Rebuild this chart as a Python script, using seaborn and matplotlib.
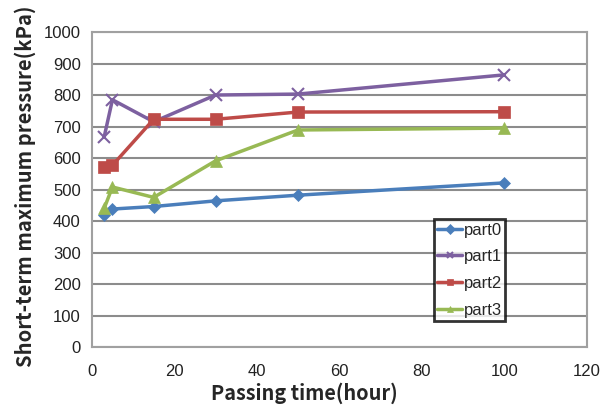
import matplotlib
matplotlib.use("Agg")
import matplotlib.pyplot as plt
import seaborn as sns
import pandas as pd

hours = [3, 5, 15, 30, 50, 100]
part0 = [419, 438, 446, 464, 482, 521]
part1 = [667, 785, 715, 800, 803, 864]
part2 = [573, 577, 723, 723, 746, 747]
part3 = [440, 508, 475, 591, 689, 695]
series = ["part0", "part1", "part2", "part3"]

df = pd.DataFrame({
    "hour": hours * 4,
    "pressure": part0 + part1 + part2 + part3,
    "series": sum([[s] * len(hours) for s in series], []),
})

sns.set_theme(style="white")
plt.rcParams['font.family'] = ['Liberation Sans', 'DejaVu Sans']

colors = {"part0": "#4a7ebb", "part1": "#7d60a0", "part2": "#be4b48", "part3": "#98b954"}
markers = {"part0": "D", "part1": "x", "part2": "s", "part3": "^"}
msizes = {"part0": 6, "part1": 8, "part2": 8, "part3": 8}

fig = plt.figure(figsize=(6.08, 4.08), dpi=100)
ax = fig.add_axes([0.151, 0.1495, 0.814, 0.772])

for s in series:
    sub = df[df.series == s]
    sns.lineplot(data=sub, x="hour", y="pressure", ax=ax, color=colors[s],
                 marker=markers[s], markersize=msizes[s], linewidth=2.5,
                 markeredgecolor=colors[s], markeredgewidth=1.5 if s == "part1" else 0.5,
                 label=s)

ax.set_xlim(0, 120)
ax.set_ylim(0, 1000)
ax.set_xticks(range(0, 121, 20))
ax.set_yticks(range(0, 1001, 100))
ax.tick_params(axis='both', length=0, labelsize=12, colors='#222222')
ax.tick_params(axis='x', pad=12)
ax.tick_params(axis='y', pad=8)
ax.grid(axis='y', color='#8c8c8c', linewidth=1.5)
ax.set_axisbelow(True)
for sp in ax.spines.values():
    sp.set_color('#a0a0a0')
    sp.set_linewidth(1.5)

lab_font = dict(family=['Noto Sans CJK KR', 'DejaVu Sans'], fontweight='bold')
ax.set_xlabel("Passing time(hour)", fontsize=14.3, **lab_font)
ax.set_ylabel("Short-term maximum pressure(kPa)", fontsize=14.5, **lab_font)
ax.xaxis.set_label_coords(0.43, -0.112)
ax.yaxis.set_label_coords(-0.113, 0.511)

leg = ax.legend(loc='lower left', bbox_to_anchor=(0.691, 0.083), frameon=True,
                fancybox=False, fontsize=12, handlelength=1.5, handletextpad=0.1,
                borderpad=0.2, labelspacing=0.7, borderaxespad=0)
leg.get_frame().set_edgecolor('black')
leg.get_frame().set_linewidth(2)
for h in leg.get_lines():
    h.set_linewidth(2.5)
    h.set_markersize(5)

fig.savefig("out.png", dpi=100)
